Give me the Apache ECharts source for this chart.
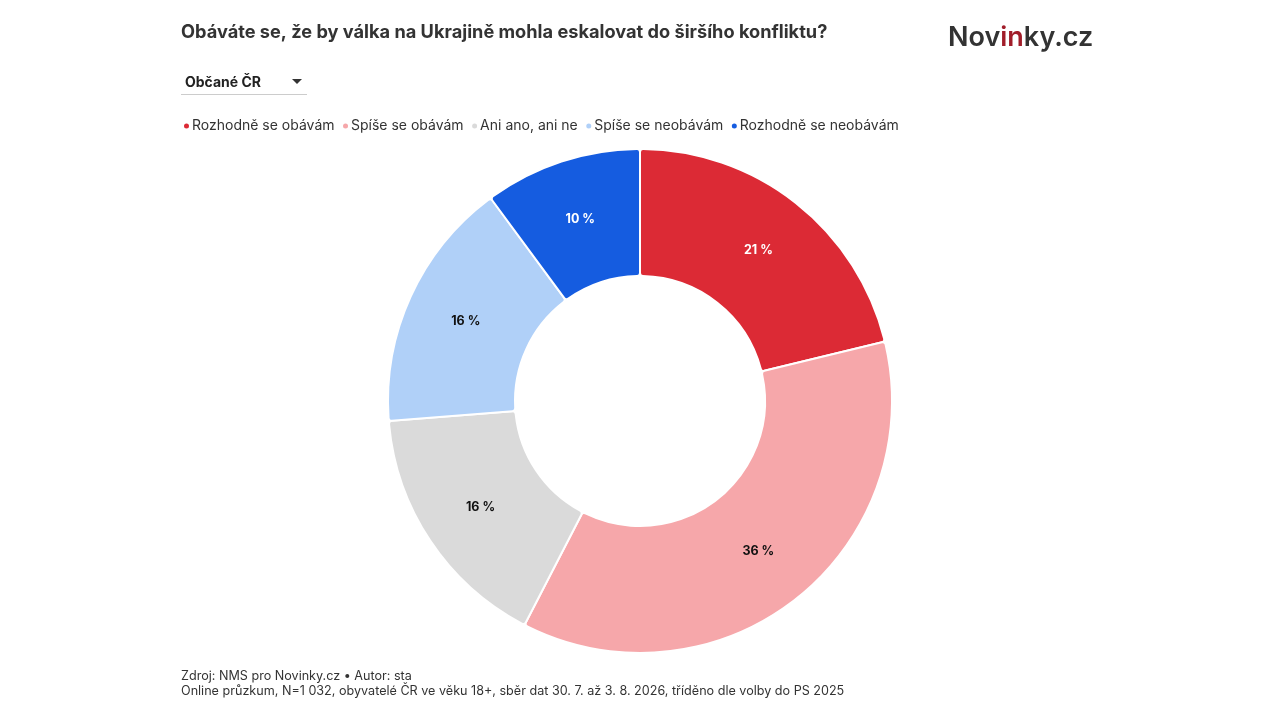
<!DOCTYPE html>
<html><head><meta charset="utf-8">
<script src="https://cdn.jsdelivr.net/npm/echarts@6/dist/echarts.min.js"></script>
<style>html,body{margin:0;padding:0;background:#fff}#c{width:1280px;height:720px}</style>
</head><body><div id="c"></div>
<script>
const categories = ['Rozhodně se obávám','Spíše se obávám','Ani ano, ani ne','Spíše se neobávám','Rozhodně se neobávám'];
const values = [21, 36, 16, 16, 10];
const colors = ['#dc2a35','#f6a7aa','#dadada','#b0d0f8','#155ce0'];
const labelColors = ['#ffffff','#111111','#111111','#111111','#ffffff'];

const FONT = 'Inter, "Noto Sans", sans-serif';
const chart = echarts.init(document.getElementById('c'));
chart.setOption({
  animation: false,
  color: colors,
  title: {
    text: 'Obáváte se, že by válka na Ukrajině mohla eskalovat do širšího konfliktu?',
    left: 176, top: 19,
    textStyle: {fontFamily: FONT, fontSize: 18.2, fontWeight: 'bold', color: '#333'}
  },
  legend: {
    left: 177, top: 114,
    icon: 'circle', itemWidth: 7, itemHeight: 7, itemGap: 6.5,
    textStyle: {fontFamily: FONT, fontSize: 14, color: '#333', padding: [0,0,0,-3]},
    data: categories
  },
  graphic: [
    {type:'text', left: 948, top: 24, style:{rich:{a:{fontFamily:FONT,fontSize:27,fontWeight:600,fill:'#333'},b:{fontFamily:FONT,fontSize:27,fontWeight:600,fill:'#a11d2a'}}, text:'{a|Nov}{b|in}{a|ky.cz}'}},
    {type:'text', left: 185, top: 76, style:{text:'Občané ČR', font:'bold 14px '+FONT, fill:'#222'}},
    {type:'polygon', shape:{points:[[292,79],[302,79],[297,84]]}, style:{fill:'#333'}},
    {type:'line', shape:{x1:181,y1:94.5,x2:307,y2:94.5}, style:{stroke:'#ccc', lineWidth:1}},
    {type:'text', left: 181, top: 670, style:{text:'Zdroj: NMS pro Novinky.cz • Autor: sta', font:'12.6px '+FONT, fill:'#333'}},
    {type:'text', left: 181, top: 685, style:{text:'Online průzkum, N=1 032, obyvatelé ČR ve věku 18+, sběr dat 30. 7. až 3. 8. 2026, tříděno dle volby do PS 2025', font:'12.6px '+FONT, fill:'#333'}}
  ],
  series: [{
    type: 'pie',
    center: [640, 401],
    radius: [125, 252],
    startAngle: 90,
    clockwise: true,
    itemStyle: {borderColor: '#fff', borderWidth: 2, borderRadius: 3},
    label: {
      show: true, position: 'inside',
      fontFamily: FONT, fontSize: 12.5, fontWeight: 'bold',
      formatter: p => p.value + ' %'
    },
    labelLine: {show: false},
    data: categories.map((n,i)=>({name:n, value:values[i], label:{color:labelColors[i]}}))
  }]
});
</script></body></html>
